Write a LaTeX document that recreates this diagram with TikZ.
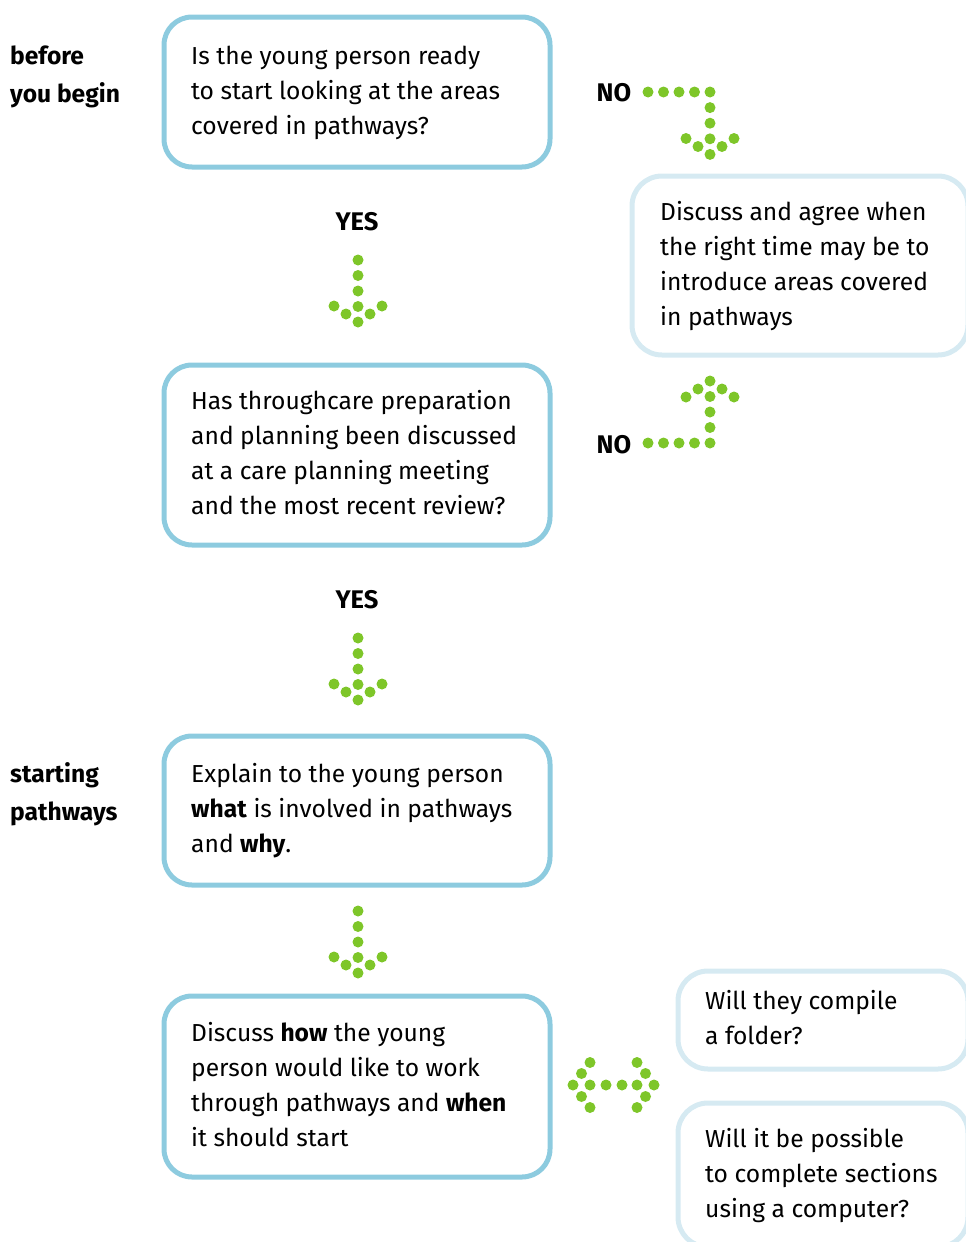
\documentclass[tikz,border=0pt]{standalone}
\usepackage{fontspec}
\setmainfont{Fira Sans}
\definecolor{boxblue}{RGB}{141,203,223}
\definecolor{boxpale}{RGB}{214,234,242}
\definecolor{dotgreen}{RGB}{126,198,41}
\tikzset{
  qbox/.style={draw=boxblue, line width=5pt, rounded corners=28pt, outer sep=0pt, inner sep=0pt},
  pbox/.style={draw=boxpale, line width=5pt, rounded corners=30pt, outer sep=0pt, inner sep=0pt},
  btext/.style={anchor=west, align=left, inner sep=0pt, font=\fontsize{24.6}{35}\selectfont},
  side/.style={anchor=west, align=left, inner sep=0pt, font=\fontsize{24.6}{38}\selectfont\bfseries},
  yn/.style={inner sep=0pt, font=\fontsize{25.5}{28}\selectfont\bfseries},
  gdot/.style={fill=dotgreen},
}
\begin{document}
\begin{tikzpicture}[x=1pt,y=-1pt]
\useasboundingbox (0,0) rectangle (966,1242);
\clip (0,0) rectangle (966,1242);
% boxes
\node[qbox, minimum width=386pt, minimum height=150pt] (q1) at (357,92) {};
\node[pbox, minimum width=336pt, minimum height=179pt] (agree) at (800,265.5) {};
\node[qbox, minimum width=386pt, minimum height=180pt] (q2) at (357,455) {};
\node[qbox, minimum width=386pt, minimum height=149pt] (explain) at (357,810.5) {};
\node[qbox, minimum width=386pt, minimum height=181pt] (how) at (357,1086.5) {};
\node[pbox, minimum width=290pt, minimum height=98pt] (folder) at (823,1020) {};
\node[pbox, minimum width=290pt, minimum height=144pt] (computer) at (823,1175) {};
% texts
\node[btext] (q1t) at ([xshift=27pt]q1.west) {\strut Is the young person ready\\to start looking at the areas\\covered in pathways?\strut};
\node[btext] (agreet) at ([xshift=28pt]agree.west) {\strut Discuss and agree when\\the right time may be to\\introduce areas covered\\in pathways\strut};
\node[btext] (q2t) at ([xshift=27pt]q2.west) {\strut Has throughcare preparation\\and planning been discussed\\at a care planning meeting\\and the most recent review?\strut};
\node[btext] (explaint) at ([xshift=27pt]explain.west) {\strut Explain to the young person\\\textbf{what} is involved in pathways\\and \textbf{why}.\strut};
\node[btext] (howt) at ([xshift=27pt]how.west) {\strut Discuss \textbf{how} the young\\person would like to work\\through pathways and \textbf{when}\\it should start\strut};
\node[btext] (foldert) at ([xshift=27pt]folder.west) {\strut Will they compile\\a folder?\strut};
\node[btext] (computert) at ([xshift=27pt]computer.west) {\strut Will it be possible\\to complete sections\\using a computer?\strut};
% side labels
\node[side] (before) at (10,76) {\strut before\\you begin\strut};
\node[side] (starting) at (10,793.5) {\strut starting\\pathways\strut};
% yes / no labels
\node[yn] (yes1) at (357,222) {YES};
\node[yn] (yes2) at (357,600) {YES};
\node[yn] (no1) at (614,93) {NO};
\node[yn] (no2) at (614,445) {NO};
% dotted arrows: down arrows (tip coordinates)
\coordinate (d1) at (358,322);
\coordinate (d2) at (358,700);
\coordinate (d3) at (358,973);
\foreach \t in {d1,d2,d3}{
  \foreach \k in {0,...,4} \fill[gdot] ([yshift=\k*15.5pt]\t) circle (5.5pt);
  \foreach \dx/\dy in {-12/8,-24/16,12/8,24/16} \fill[gdot] ([xshift=\dx pt,yshift=\dy pt]\t) circle (5.5pt);
}
% NO arrow towards 'agree' (down)
\coordinate (c1) at (710,92);
\foreach \k in {1,...,4} \fill[gdot] ([xshift=-\k*15.5pt]c1) circle (5.5pt);
\foreach \k in {0,...,4} \fill[gdot] ([yshift=-\k*15.6pt]c1) circle (5.5pt);
\coordinate (tip1) at (710,154.5);
\foreach \dx/\dy in {-12/8,-24/16,12/8,24/16} \fill[gdot] ([xshift=\dx pt,yshift=\dy pt]tip1) circle (5.5pt);
% NO arrow towards 'agree' (up)
\coordinate (c2) at (710,443);
\foreach \k in {1,...,4} \fill[gdot] ([xshift=-\k*15.5pt]c2) circle (5.5pt);
\foreach \k in {0,...,4} \fill[gdot] ([yshift=\k*15.5pt]c2) circle (5.5pt);
\coordinate (tip2) at (710,381);
\foreach \dx/\dy in {-12/-8,-24/-16,12/-8,24/-16} \fill[gdot] ([xshift=\dx pt,yshift=\dy pt]tip2) circle (5.5pt);
% double arrow between 'how' and right boxes
\coordinate (lt) at (573,1085);
\coordinate (rt) at (654,1085);
\foreach \x in {573,590,606,622,637,654} \fill[gdot] (\x,1085) circle (5.5pt);
\foreach \dx/\dy in {8.5/11.5,17/22.5,8.5/-11.5,17/-22.5} {
  \fill[gdot] ([xshift=\dx pt,yshift=\dy pt]lt) circle (5.5pt);
  \fill[gdot] ([xshift=-\dx pt,yshift=\dy pt]rt) circle (5.5pt);
}
\end{tikzpicture}
\end{document}
